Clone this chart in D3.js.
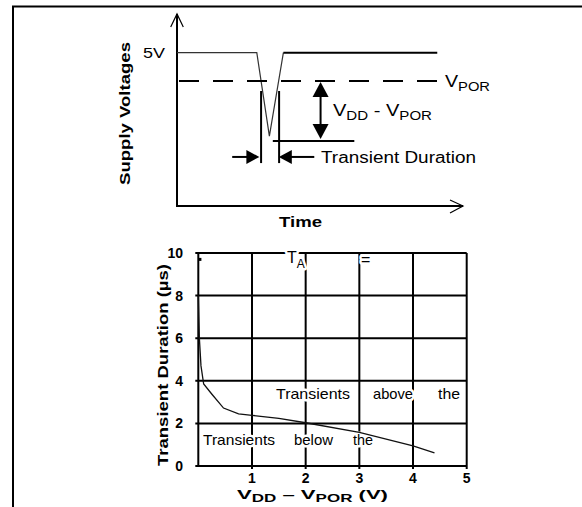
<!DOCTYPE html>
<html><head><meta charset="utf-8">
<script src="https://cdn.jsdelivr.net/npm/d3@7/dist/d3.min.js"></script>
<style>
body{margin:0;background:#fff;}
svg{display:block;font-family:"Liberation Sans",Arial,sans-serif;}
</style></head>
<body><svg id="c" width="582" height="507"></svg>
<script>
// ---- Top schematic (arbitrary time units, volts) ----
const waveT = [0, 27.9, 32.3, 37.2];
const waveV = [5, 5, 2.28, 5];
const steadyT = [37.2, 91];
const steadyV = [5, 5];
const vporLevel = 4.08;
const vporT = [0, 92];
const markerT = [29.4, 35.7];
const markerV = [3.75, 1.4];
const minLineT = [33.5, 62];
const ddArrowT = 50.2;
const durArrowV = 1.6;
const durArrowLeft = [19.3, 28.8];
const durArrowRight = [35.6, 48];

// ---- Bottom chart data ----
const xTicks = [1, 2, 3, 4, 5];
const yTicks = [0, 2, 4, 6, 8, 10];
const curveX = [0.0, 0.02, 0.05, 0.1, 0.25, 0.47, 0.75, 1.0, 1.5, 2.0, 3.0, 4.0, 4.4];
const curveY = [8.0, 6.0, 4.7, 3.85, 3.38, 2.72, 2.45, 2.38, 2.24, 2.03, 1.58, 0.94, 0.62];
const dotPoint = [0.03, 9.7];

const svg = d3.select("#c");
svg.append("rect").attr("width",582).attr("height",507).attr("fill","#fff");

svg.append("path").attr("d","M13,507V6.5H582").attr("fill","none").attr("stroke","#000").attr("stroke-width",2);

function fit(sel,len){return sel.attr("textLength",len).attr("lengthAdjust","spacingAndGlyphs");}

// ---------- top schematic ----------
const tS = d3.scaleLinear().domain([0,100]).range([177,463]);
const vS = d3.scaleLinear().domain([0,5]).range([206,52.7]);
const g1 = svg.append("g");
g1.append("path").attr("d",`M${tS(0)},14V${vS(0)}H463`).attr("fill","none").attr("stroke","#000").attr("stroke-width",2);
g1.append("path").attr("d",`M170.7,27L${tS(0)},14L183.3,27`).attr("fill","none").attr("stroke","#000").attr("stroke-width",1.2);
g1.append("path").attr("d",`M450,200L463,${vS(0)}L450,213`).attr("fill","none").attr("stroke","#000").attr("stroke-width",1.2);

const line1 = d3.line().x(d=>tS(d[0])).y(d=>vS(d[1]));
g1.append("path").attr("d",line1(waveT.map((t,i)=>[t,waveV[i]]))).attr("fill","none").attr("stroke","#333").attr("stroke-width",1.2);
g1.append("path").attr("d",line1(steadyT.map((t,i)=>[t,steadyV[i]]))).attr("fill","none").attr("stroke","#000").attr("stroke-width",2);
g1.append("path").attr("d",line1(vporT.map(t=>[t,vporLevel]))).attr("fill","none").attr("stroke","#000").attr("stroke-width",2).attr("stroke-dasharray","20,14").attr("stroke-dashoffset",-2);
markerT.forEach(t=>{
  g1.append("line").attr("x1",tS(t)).attr("x2",tS(t)).attr("y1",vS(markerV[0])).attr("y2",vS(markerV[1])).attr("stroke","#000").attr("stroke-width",2);
});
g1.append("line").attr("x1",tS(minLineT[0])).attr("x2",tS(minLineT[1])).attr("y1",vS(2.12)).attr("y2",vS(2.12)).attr("stroke","#000").attr("stroke-width",2);
const ax = tS(ddArrowT), aTop = vS(vporLevel)+1, aBot = vS(2.12)-2;
g1.append("line").attr("x1",ax).attr("x2",ax).attr("y1",aTop+10).attr("y2",aBot-10).attr("stroke","#000").attr("stroke-width",2);
g1.append("path").attr("d",`M${ax},${aTop}L${ax-8},${aTop+15}H${ax+8}Z`).attr("fill","#000");
g1.append("path").attr("d",`M${ax},${aBot}L${ax-8},${aBot-15}H${ax+8}Z`).attr("fill","#000");
const ay = vS(durArrowV);
g1.append("line").attr("x1",tS(durArrowLeft[0])).attr("x2",tS(durArrowLeft[1])-8).attr("y1",ay).attr("y2",ay).attr("stroke","#000").attr("stroke-width",2);
g1.append("path").attr("d",`M${tS(durArrowLeft[1])},${ay}L${tS(durArrowLeft[1])-13},${ay-7}V${ay+7}Z`).attr("fill","#000");
g1.append("line").attr("x1",tS(durArrowRight[0])+8).attr("x2",tS(durArrowRight[1])).attr("y1",ay).attr("y2",ay).attr("stroke","#000").attr("stroke-width",2);
g1.append("path").attr("d",`M${tS(durArrowRight[0])},${ay}L${tS(durArrowRight[0])+13},${ay-7}V${ay+7}Z`).attr("fill","#000");

fit(g1.append("text").attr("x",143).attr("y",vS(5)+5).attr("font-size",15).text("5V"),22);
const vp = fit(g1.append("text").attr("x",445).attr("y",vS(vporLevel)+6).attr("font-size",16),45);
vp.append("tspan").text("V");
vp.append("tspan").attr("font-size",12).attr("dy",4).text("POR");
const vd = fit(g1.append("text").attr("x",333).attr("y",116).attr("font-size",16),99);
vd.append("tspan").text("V");
vd.append("tspan").attr("font-size",12).attr("dy",4).text("DD");
vd.append("tspan").attr("dy",-4).text(" - V");
vd.append("tspan").attr("font-size",12).attr("dy",4).text("POR");
fit(g1.append("text").attr("x",321).attr("y",ay+6).attr("font-size",16).text("Transient Duration"),155);
fit(g1.append("text").attr("x",279).attr("y",227).attr("font-size",15).attr("font-weight","bold").text("Time"),43);
fit(g1.append("text").attr("transform","translate(130,185) rotate(-90)").attr("font-size",15).attr("font-weight","bold").text("Supply Voltages"),143);

// ---------- bottom chart ----------
const x = d3.scaleLinear().domain([0,5]).range([198.3,466.7]);
const y = d3.scaleLinear().domain([0,10]).range([466,253]);
const g2 = svg.append("g");
yTicks.forEach(v=>{
  g2.append("line").attr("x1",x(0)-3).attr("x2",x(5)).attr("y1",y(v)).attr("y2",y(v)).attr("stroke","#000").attr("stroke-width",2);
});
[0].concat(xTicks).forEach(v=>{
  g2.append("line").attr("x1",x(v)).attr("x2",x(v)).attr("y1",y(10)).attr("y2",y(0)+(v===0?0:3)).attr("stroke","#000").attr("stroke-width",2);
});
g2.append("rect").attr("x",x(dotPoint[0])-1.5).attr("y",y(dotPoint[1])-1.5).attr("width",3).attr("height",3).attr("fill","#000");

function halo(sel){return sel.attr("stroke","#fff").attr("stroke-width",5).attr("paint-order","stroke").attr("stroke-linejoin","round");}
const ta = halo(g2.append("text").attr("x",287).attr("y",263).attr("font-size",16));
ta.append("tspan").text("T");
ta.append("tspan").attr("font-size",12).attr("dy",5).text("A");
halo(g2.append("text").attr("x",361).attr("y",265).attr("font-size",16).text("="));
const aboveWords = [["Transients",276,74],["above",373,40],["the",438,22]];
aboveWords.forEach(w=>halo(fit(g2.append("text").attr("x",w[1]).attr("y",399).attr("font-size",15).text(w[0]),w[2])));
const belowWords = [["Transients",203,72],["below",294,39],["the",353,20]];
belowWords.forEach(w=>halo(fit(g2.append("text").attr("x",w[1]).attr("y",445).attr("font-size",15).text(w[0]),w[2])));

const curve = d3.line().x(d=>x(d[0])).y(d=>y(d[1]));
g2.append("path").attr("d",curve(curveX.map((v,i)=>[v,curveY[i]]))).attr("fill","none").attr("stroke","#111").attr("stroke-width",1.3);

yTicks.forEach(v=>{
  g2.append("text").attr("x",183).attr("y",y(v)+5).attr("text-anchor","end").attr("font-size",14).attr("font-weight","bold").text(v);
});
xTicks.forEach(v=>{
  g2.append("text").attr("x",x(v)).attr("y",483).attr("text-anchor","middle").attr("font-size",14).attr("font-weight","bold").text(v);
});
const xt = fit(g2.append("text").attr("x",237).attr("y",499).attr("font-size",13).attr("font-weight","bold"),151);
xt.append("tspan").text("V");
xt.append("tspan").attr("font-size",10).attr("dy",3).text("DD");
xt.append("tspan").attr("dy",-3).text(" \u2013 V");
xt.append("tspan").attr("font-size",10).attr("dy",3).text("POR");
xt.append("tspan").attr("dy",-3).text(" (V)");
fit(g2.append("text").attr("transform","translate(168,466) rotate(-90)").attr("font-size",14).attr("font-weight","bold").text("Transient Duration (\u00b5s)"),202);
</script></body></html>
